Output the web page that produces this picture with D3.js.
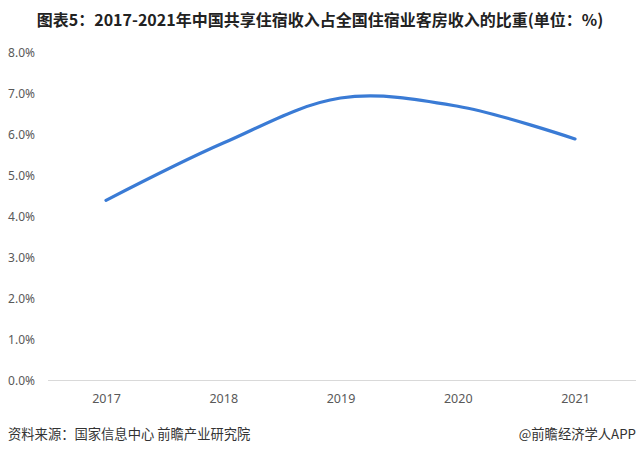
<!DOCTYPE html>
<html><head><meta charset="utf-8">
<script src="https://cdn.jsdelivr.net/npm/d3@7/dist/d3.min.js"></script>
<style>
html,body{margin:0;padding:0;background:#fff;}
svg{display:block;font-family:"Noto Sans CJK SC","Noto Sans",sans-serif;}
</style></head>
<body><svg id="c" width="640" height="454"></svg>
<script>
const titleText = "图表5：2017-2021年中国共享住宿收入占全国住宿业客房收入的比重(单位：%)";
const sourceText = "资料来源：国家信息中心 前瞻产业研究院";
const creditText = "@前瞻经济学人APP";
const years = ["2017","2018","2019","2020","2021"];
const shares = [4.4, 5.8, 6.9, 6.7, 5.9];
const yTicks = [0,1,2,3,4,5,6,7,8];

const svg = d3.select("#c");
svg.append("rect").attr("width",640).attr("height",454).attr("fill","#fff");

const x = d3.scalePoint().domain(years).range([106,575]);
const y = d3.scaleLinear().domain([0,8]).range([380.5,53]);

svg.append("text").attr("x",320).attr("y",26).attr("text-anchor","middle")
  .attr("font-size",16).attr("font-weight","bold").attr("fill","#222").text(titleText);

// y axis labels
const yAxis = d3.axisLeft(y).tickValues(yTicks).tickSize(0).tickPadding(0)
  .tickFormat(d => d.toFixed(1) + "%");
const gy = svg.append("g").attr("transform","translate(35,0)").call(yAxis);
gy.select(".domain").remove();
gy.selectAll("text").attr("font-size",12).attr("fill","#595959")
  .attr("font-family","'Noto Sans','DejaVu Sans',sans-serif");

// baseline
svg.append("line").attr("x1",48).attr("x2",636).attr("y1",y(0)).attr("y2",y(0))
  .attr("stroke","#d9d9d9").attr("stroke-width",1);

// x axis
const xAxis = d3.axisBottom(x).tickSize(0).tickPadding(14);
const gx = svg.append("g").attr("transform",`translate(0,${y(0)})`).call(xAxis);
gx.select(".domain").remove();
gx.selectAll("text").attr("font-size",12.5).attr("fill","#595959")
  .attr("font-family","'Noto Sans','DejaVu Sans',sans-serif");

// line
const line = d3.line().x((d,i)=>x(years[i])).y(d=>y(d)).curve(d3.curveCatmullRom.alpha(0.5));
svg.append("path").datum(shares).attr("d",line).attr("fill","none")
  .attr("stroke","#3a7bd5").attr("stroke-width",3.2).attr("stroke-linecap","round");

// footer
svg.append("text").attr("x",8).attr("y",439).attr("font-size",13.3).attr("fill","#333").text(sourceText);
svg.append("text").attr("x",636).attr("y",439).attr("text-anchor","end").attr("font-size",13.3).attr("fill","#333").text(creditText);
</script></body></html>
